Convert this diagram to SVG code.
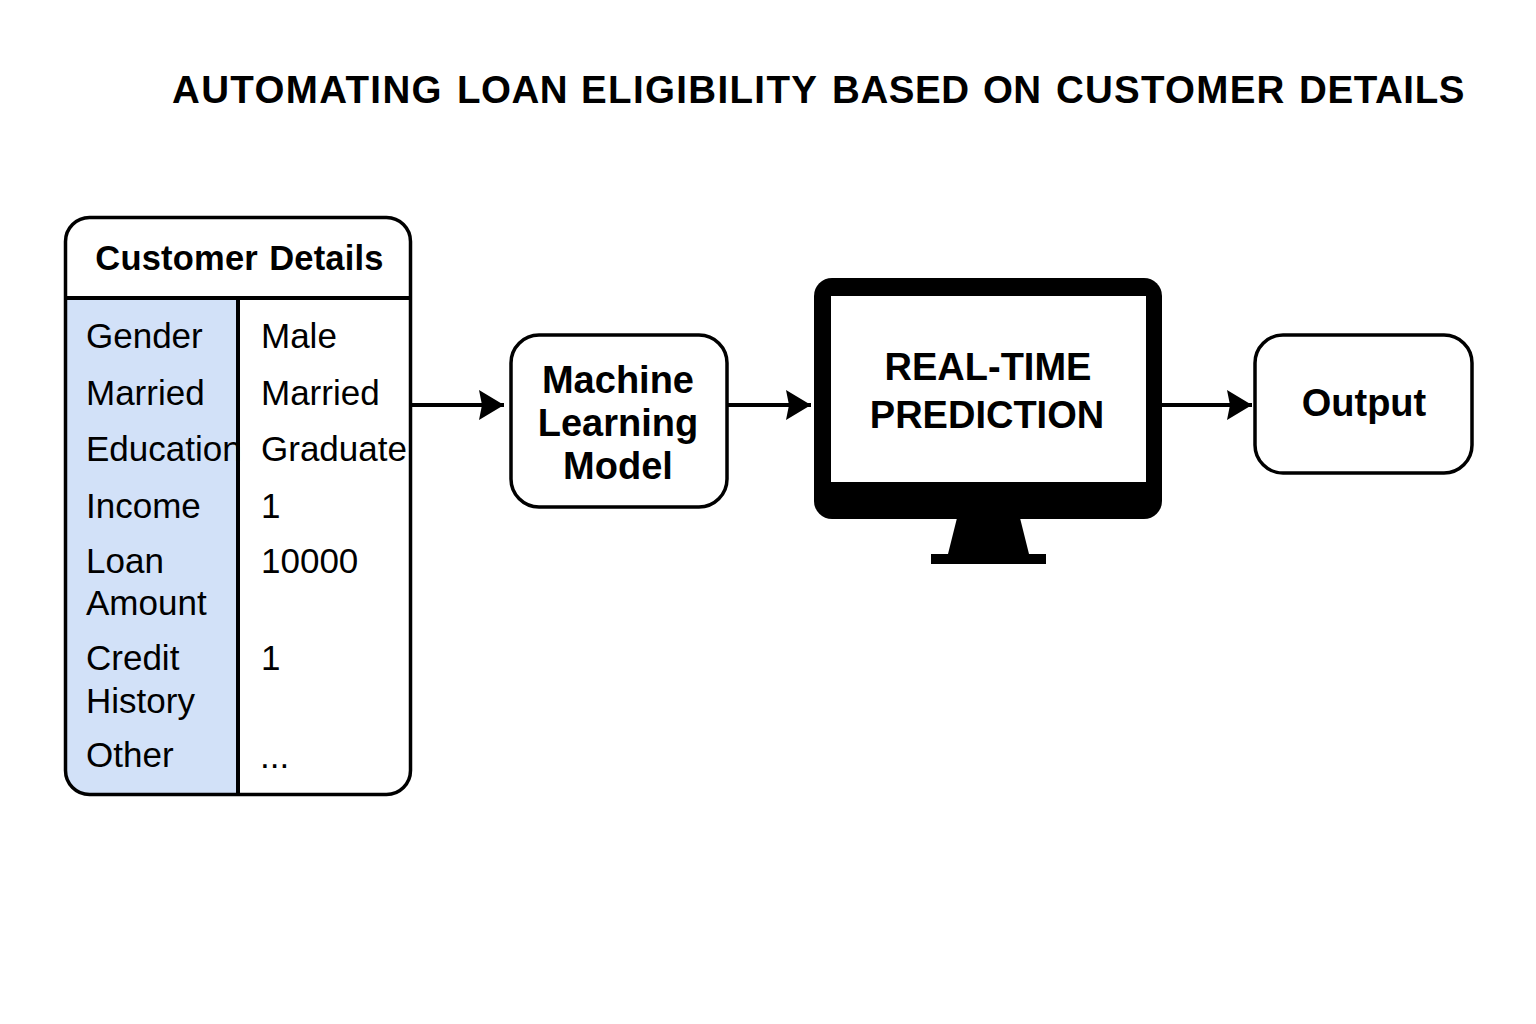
<svg xmlns="http://www.w3.org/2000/svg" width="1536" height="1024" viewBox="0 0 1536 1024">
<style>
text{font-family:"Liberation Sans",Arial,sans-serif;fill:#000}
.b{font-weight:700;text-anchor:middle}
.t{font-size:35px;fill:#1a1a1a}
.n{font-size:38px}
.box{fill:#fff;stroke:#000;stroke-width:3.5}
.c{fill:none;stroke:#000;stroke-width:4}
</style>
<defs><marker id="a" markerUnits="userSpaceOnUse" markerWidth="28" markerHeight="30" refX="25" refY="15" orient="auto"><path d="M0 0L25 15L0 30L3 15Z" fill="#000"/></marker></defs>
<rect width="1536" height="1024" fill="#fff"/>
<text id="title" y="103" font-size="38.5" font-weight="700"><tspan x="172" letter-spacing="1.35">AUTOMATING</tspan> <tspan x="457" letter-spacing="0.5">LOAN</tspan> <tspan x="581" letter-spacing="1.35">ELIGIBILITY</tspan> <tspan x="832" letter-spacing="0.6">BASED</tspan> <tspan x="983" letter-spacing="0.4">ON</tspan> <tspan x="1056" letter-spacing="1.25">CUSTOMER</tspan> <tspan x="1299" letter-spacing="0.6">DETAILS</tspan></text>
<g id="customer-details">
<path d="M66 298H238V794H90Q66 794 66 770Z" fill="#d2e1f8"/>
<rect x="65.500" y="217.500" width="345" height="577" rx="24" fill="none" stroke="#000" stroke-width="3.500"/>
<path class="c" d="M66 298H410M238 298V794"/>
<text x="239.500" y="270" class="b" font-size="34.500" letter-spacing="0.2" word-spacing="1.500">Customer Details</text>
<g class="t">
<text x="86" y="348">Gender</text><text x="86" y="405">Married</text><text x="86" y="461">Education</text><text x="86" y="518">Income</text><text x="86" y="573">Loan</text><text x="86" y="615">Amount</text><text x="86" y="670">Credit</text><text x="86" y="713">History</text><text x="86" y="767">Other</text>
<text x="261" y="348">Male</text><text x="261" y="405">Married</text><text x="261" y="461">Graduate</text><text x="261" y="518">1</text><text x="261" y="573">10000</text><text x="261" y="670">1</text><text x="260" y="768">...</text>
</g></g>
<g id="ml-model"><rect class="box" x="511" y="335" width="216" height="172" rx="28"/>
<text class="b n" x="618" y="393">Machine</text><text class="b n" x="618" y="436">Learning</text><text class="b n" x="618" y="479">Model</text></g>
<g id="monitor"><rect x="814" y="278" width="348" height="241" rx="18" fill="#000"/><rect x="831" y="296" width="315" height="186" fill="#fff"/>
<path d="M957 518H1020L1029 554H948Z" fill="#000"/><rect x="931" y="554" width="115" height="10" fill="#000"/>
<text class="b n" x="988" y="380">REAL-TIME</text><text class="b n" x="987" y="428">PREDICTION</text></g>
<g id="output"><rect class="box" x="1255" y="335" width="217" height="138" rx="28"/><text class="b n" x="1364" y="416">Output</text></g>
<g id="connectors"><path class="c" d="M412 405H504" marker-end="url(#a)"/><path class="c" d="M728 405H811" marker-end="url(#a)"/><path class="c" d="M1162 405H1252" marker-end="url(#a)"/></g>
</svg>
